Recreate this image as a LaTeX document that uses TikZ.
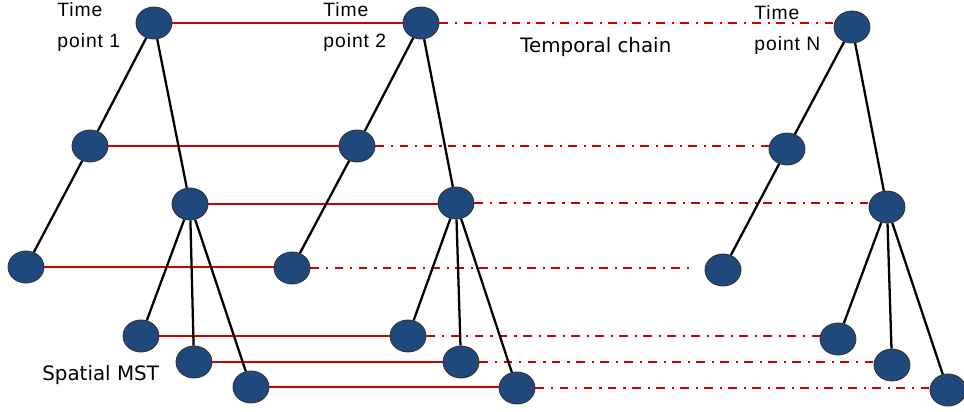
\documentclass[tikz,border=0pt]{standalone}
\usepackage{fontspec}
\usepackage{tikz}
\usetikzlibrary{shapes}
\newfontfamily\timefont[LetterSpace=5]{Liberation Sans}
\newfontfamily\tagfont{DejaVu Sans}
\definecolor{mstblue}{RGB}{31,73,125}
\definecolor{chainred}{RGB}{204,0,0}
\tikzset{
    mstnode/.style = {ellipse, draw=black!80, line width=0.5pt, fill=mstblue, minimum width=0.72cm, minimum height=0.64cm, inner sep=0pt},
    mstedge/.style = {line width=1.3pt, black},
    chainn/.style = {chainred, line width=0.6pt},          % solid, thin
    chainb/.style = {chainred, line width=1.1pt},          % solid, heavy
    chaind/.style = {chainred, line width=1pt, dash pattern=on 5pt off 4pt on 1.2pt off 3.5pt}, % skipped time points
    timelabel/.style = {anchor=north west, inner sep=0pt, align=left, font=\timefont\fontsize{11}{18}\selectfont},
    taglabel/.style = {anchor=base west, inner sep=0pt, font=\tagfont\fontsize{11.3}{13}\selectfont}
}
\begin{document}
\begin{tikzpicture}[x=0.02cm, y=-0.02cm]
\useasboundingbox (0,0) rectangle (964,412);
%
% time point 1
\node[mstnode] at (154, 23) (r1) {};
\node[mstnode] at ( 90,146) (a1) {};
\node[mstnode] at (190,204) (b1) {};
\node[mstnode] at ( 26,267) (c1) {};
\node[mstnode] at (141,336) (d1) {};
\node[mstnode] at (194,362) (e1) {};
\node[mstnode] at (251,387) (f1) {};
% time point 2
\node[mstnode] at (421, 23) (r2) {};
\node[mstnode] at (357,146) (a2) {};
\node[mstnode] at (456,203) (b2) {};
\node[mstnode] at (292,268) (c2) {};
\node[mstnode] at (408,336) (d2) {};
\node[mstnode] at (461,362) (e2) {};
\node[mstnode] at (517,388) (f2) {};
% time point N
\node[mstnode] at (852, 27) (rN) {};
\node[mstnode] at (787,149) (aN) {};
\node[mstnode] at (887,207) (bN) {};
\node[mstnode] at (723,270) (cN) {};
\node[mstnode] at (838,339) (dN) {};
\node[mstnode] at (892,365) (eN) {};
\node[mstnode] at (948,390) (fN) {};
%
\node[timelabel] at ( 57, 2) (t1) {Time\\point 1};
\node[timelabel] at (323, 2) (t2) {Time\\point 2};
\node[timelabel] at (754, 5) (tN) {Time\\point N};
\node[taglabel] at (520, 53) (tc) {Temporal chain};
\node[taglabel] at ( 42,380) (sm) {Spatial MST};
%
% temporal chain, level with the node on the left
\draw[chainn] (r1.east) -- (r1.east -| r2.west);
\draw[chainn] (a1.east) -- (a1.east -| a2.west);
\draw[chainn] (b1.east) -- (b1.east -| b2.west);
\draw[chainb] (c1.east) -- (c1.east -| c2.west);
\draw[chainb] (d1.east) -- (d1.east -| d2.west);
\draw[chainb] (e1.east) -- (e1.east -| e2.west);
\draw[chainn] (f1.east) -- (f1.east -| f2.west);
\draw[chaind] (r2.east) -- (r2.east -| rN.west);
\draw[chaind] (a2.east) -- (a2.east -| aN.west);
\draw[chaind] (b2.east) -- (b2.east -| bN.west);
\draw[chaind] (c2.east) -- ([xshift=-8pt]c2.east -| cN.west);
\draw[chaind] (d2.east) -- (d2.east -| dN.west);
\draw[chaind] (e2.east) -- (e2.east -| eN.west);
\draw[chaind] (f2.east) -- (f2.east -| fN.west);
%
% spatial trees
\foreach \t in {1,2,N} {
  \draw[mstedge] (r\t) -- (a\t);
  \draw[mstedge] (r\t) -- (b\t);
  \draw[mstedge] (a\t) -- (c\t);
  \draw[mstedge] (b\t) -- (d\t);
  \draw[mstedge] (b\t) -- (e\t);
  \draw[mstedge] (b\t) -- (f\t);
}
\end{tikzpicture}
\end{document}
